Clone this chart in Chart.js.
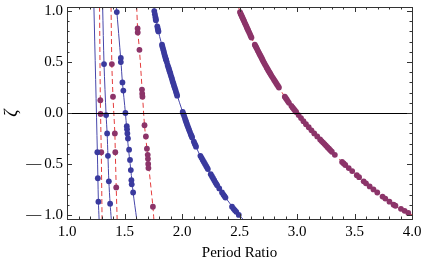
<!DOCTYPE html>
<html>
<head>
<meta charset="utf-8">
<script src="https://cdn.jsdelivr.net/npm/chart.js@4/dist/chart.umd.min.js"></script>
<style>
html, body { margin: 0; padding: 0; background: #fff; }
</style>
</head>
<body>
<canvas id="periodChart" width="424" height="258"></canvas>
<script>
// Curves: [period ratio, zeta]
var blue1Line = [[1.234, 1.04], [1.264, -0.385], [1.273, -0.87], [1.279, -1.04]];
var blue1Pts = [[1.264, -0.385], [1.268, -0.64], [1.273, -0.87]];

var red1Line = [[1.283, 1.04], [1.29, 0.125], [1.298, -0.385], [1.305, -1.04]];
var red1Pts = [[1.29, 0.125], [1.292, -0.01], [1.298, -0.385]];

var blue2Line = [[1.31, 1.04], [1.322, 0.48], [1.34, -0.02], [1.349, -0.2], [1.356, -0.42], [1.364, -0.67], [1.375, -0.89], [1.385, -1.04]];
var blue2Pts = [[1.322, 0.48], [1.34, -0.02], [1.349, -0.2], [1.356, -0.42], [1.364, -0.67], [1.375, -0.89]];

var red2Line = [[1.383, 1.04], [1.39, 0.48], [1.40, 0.16], [1.416, -0.2], [1.42, -0.385], [1.428, -0.73], [1.436, -1.04]];
var red2Pts = [[1.39, 0.48], [1.40, 0.16], [1.416, -0.2], [1.42, -0.385], [1.428, -0.73]];

var blue3Line = [[1.43, 1.04], [1.468, 0.52], [1.482, 0.30], [1.508, 0.0], [1.53, -0.3], [1.555, -0.56], [1.575, -0.78], [1.606, -1.04]];
var blue3Pts = [[1.433, 0.99], [1.468, 0.54], [1.468, 0.50], [1.482, 0.30], [1.49, 0.22], [1.508, 0.0],
  [1.52, -0.13], [1.522, -0.16], [1.525, -0.20], [1.53, -0.25], [1.54, -0.36], [1.548, -0.46],
  [1.555, -0.56], [1.56, -0.66], [1.563, -0.70], [1.575, -0.78]];

var red3Line = [[1.606, 1.04], [1.615, 0.81], [1.63, 0.62], [1.655, 0.2], [1.674, -0.12], [1.695, -0.35], [1.705, -0.46], [1.747, -0.92], [1.755, -1.04]];
var red3Pts = [[1.614, 0.83], [1.615, 0.79], [1.63, 0.62], [1.652, 0.23], [1.654, 0.19], [1.656, 0.16],
  [1.674, -0.12], [1.686, -0.23], [1.695, -0.35], [1.702, -0.41], [1.704, -0.45], [1.706, -0.50],
  [1.708, -0.54], [1.747, -0.92]];

var blue4Line = [[1.755, 1.04], [1.795, 0.8], [1.842, 0.6], [1.895, 0.4], [1.95, 0.2], [2.009, 0.0],
  [2.073, -0.2], [2.15, -0.4], [2.25, -0.6], [2.36, -0.8], [2.494, -1.0], [2.53, -1.04]];
var blue4Pts = [[1.759, 1.0], [1.764, 0.97], [1.769, 0.94], [1.772, 0.92], [1.773, 0.91], [1.785, 0.85], [1.789, 0.83],
  [1.793, 0.81], [1.795, 0.80], [1.826, 0.67], [1.830, 0.65], [1.835, 0.63], [1.840, 0.61], [1.844, 0.59],
  [1.849, 0.57], [1.854, 0.55], [1.859, 0.53], [1.862, 0.52], [1.868, 0.50], [1.875, 0.47], [1.881, 0.45],
  [1.887, 0.43], [1.892, 0.41], [1.898, 0.39], [1.903, 0.37], [1.909, 0.35], [1.914, 0.33],
  [1.919, 0.31], [1.925, 0.29], [1.930, 0.27], [1.936, 0.25], [1.942, 0.23], [1.947, 0.21],
  [1.953, 0.19], [1.958, 0.17], [2.006, 0.01], [2.012, -0.01], [2.019, -0.03], [2.025, -0.05], [2.031, -0.07],
  [2.037, -0.09], [2.043, -0.11], [2.050, -0.13], [2.057, -0.15], [2.063, -0.17], [2.070, -0.19],
  [2.077, -0.21], [2.083, -0.225], [2.088, -0.24], [2.103, -0.28], [2.110, -0.30], [2.116, -0.315], [2.122, -0.33], [2.16, -0.42],
  [2.17, -0.44], [2.18, -0.46], [2.19, -0.48], [2.20, -0.50], [2.21, -0.52], [2.218, -0.535], [2.225, -0.55],
  [2.25, -0.60], [2.26, -0.62], [2.27, -0.64], [2.28, -0.66], [2.29, -0.68], [2.298, -0.695], [2.306, -0.71],
  [2.324, -0.74], [2.348, -0.78], [2.36, -0.80], [2.369, -0.815], [2.378, -0.83], [2.435, -0.92], [2.449, -0.94],
  [2.46, -0.955], [2.472, -0.97], [2.494, -1.0]];

var red4Line = [[2.49, 1.04], [2.54, 0.9], [2.62, 0.7], [2.71, 0.5], [2.815, 0.3], [2.93, 0.1],
  [3.07, -0.1], [3.235, -0.3], [3.41, -0.5], [3.61, -0.7], [3.84, -0.9], [4.0, -1.0]];
var red4Pts = [[2.504, 0.99], [2.51, 0.975], [2.516, 0.96], [2.522, 0.945], [2.528, 0.93], [2.534, 0.915], [2.54, 0.90],
  [2.546, 0.885], [2.552, 0.87], [2.558, 0.855], [2.564, 0.84], [2.57, 0.825],
  [2.576, 0.81], [2.584, 0.79], [2.592, 0.77], [2.598, 0.755], [2.604, 0.74], [2.633, 0.67], [2.64, 0.655], [2.647, 0.64],
  [2.654, 0.625], [2.66, 0.61], [2.667, 0.595],
  [2.674, 0.58], [2.681, 0.565], [2.688, 0.55], [2.695, 0.535], [2.701, 0.52], [2.708, 0.505], [2.715, 0.49],
  [2.722, 0.475], [2.73, 0.46], [2.737, 0.445], [2.745, 0.43], [2.752, 0.415],
  [2.76, 0.40], [2.768, 0.385], [2.776, 0.37], [2.784, 0.355], [2.793, 0.34], [2.801, 0.325], [2.81, 0.31],
  [2.818, 0.295], [2.826, 0.28], [2.835, 0.265], [2.843, 0.25],
  [2.894, 0.16], [2.903, 0.145], [2.912, 0.13], [2.921, 0.115], [2.93, 0.10], [2.951, 0.07], [2.961, 0.055],
  [2.972, 0.04], [2.982, 0.025], [2.993, 0.01],
  [3.014, -0.02], [3.035, -0.05], [3.056, -0.08], [3.078, -0.11], [3.102, -0.14], [3.126, -0.17],
  [3.15, -0.20], [3.176, -0.23], [3.201, -0.26], [3.214, -0.275], [3.227, -0.29], [3.24, -0.305], [3.252, -0.32],
  [3.265, -0.335], [3.278, -0.35], [3.29, -0.365],
  [3.303, -0.38], [3.329, -0.41], [3.392, -0.48], [3.406, -0.495], [3.42, -0.51], [3.45, -0.54], [3.48, -0.57],
  [3.52, -0.61], [3.54, -0.63], [3.58, -0.67], [3.60, -0.69], [3.632, -0.72], [3.665, -0.75],
  [3.698, -0.78], [3.744, -0.82], [3.768, -0.84], [3.804, -0.87], [3.84, -0.90], [3.856, -0.91],
  [3.904, -0.94], [3.936, -0.96], [3.968, -0.98]];

var xTicks = [1.0, 1.5, 2.0, 2.5, 3.0, 3.5, 4.0];
var yTicks = [-1.0, -0.5, 0.0, 0.5, 1.0];

var blueLine = 'rgb(70, 70, 170)';
var bluePoint = 'rgb(58, 58, 158)';
var redLine = 'rgb(228, 60, 60)';
var purplePoint = 'rgb(140, 52, 105)';

function toXY(arr) {
    return arr.map(function (p) { return { x: p[0], y: p[1] }; });
}

function lineSet(arr, color, dashed) {
    return {
        data: toXY(arr),
        showLine: true,
        borderColor: color,
        borderWidth: 1,
        borderDash: dashed ? [5, 3] : [],
        pointRadius: 0,
        tension: 0.3,
        order: 2
    };
}

function pointSet(arr, color) {
    return {
        data: toXY(arr),
        showLine: false,
        backgroundColor: color,
        borderWidth: 0,
        pointRadius: 2.9,
        order: 1
    };
}

// frame, inside ticks and the zero line, all through the chart's scales
var frameTicks = {
    id: 'frameTicks',
    afterDatasetsDraw: function (chart) {
        var ctx = chart.ctx, a = chart.chartArea;
        var xs = chart.scales.x, ys = chart.scales.y;
        ctx.save();
        ctx.strokeStyle = '#000';
        ctx.lineWidth = 1;
        var y0 = Math.round(ys.getPixelForValue(0)) + 0.5;
        ctx.beginPath();
        ctx.moveTo(a.left, y0);
        ctx.lineTo(a.right, y0);
        ctx.stroke();

        ctx.strokeStyle = '#333';
        ctx.strokeRect(Math.round(a.left) + 0.5, Math.round(a.top) + 0.5,
            Math.round(a.right - a.left), Math.round(a.bottom - a.top));
        ctx.beginPath();
        for (var i = 0; i <= 30; i++) {
            var px = Math.round(xs.getPixelForValue(1 + i * 0.1)) + 0.5;
            var len = i % 5 === 0 ? 5 : 2.5;
            ctx.moveTo(px, a.bottom);
            ctx.lineTo(px, a.bottom - len);
            ctx.moveTo(px, a.top);
            ctx.lineTo(px, a.top + len);
        }
        for (var j = -10; j <= 10; j++) {
            var py = Math.round(ys.getPixelForValue(j / 10)) + 0.5;
            var l2 = j % 5 === 0 ? 5 : 2.5;
            ctx.moveTo(a.left, py);
            ctx.lineTo(a.left + l2, py);
            ctx.moveTo(a.right, py);
            ctx.lineTo(a.right - l2, py);
        }
        ctx.stroke();
        ctx.restore();
    }
};

var serif = "'Liberation Serif', 'DejaVu Serif', serif";

var chart = new Chart(document.getElementById('periodChart'), {
    type: 'scatter',
    data: {
        datasets: [
            lineSet(blue1Line, blueLine, false), pointSet(blue1Pts, bluePoint),
            lineSet(red1Line, redLine, true), pointSet(red1Pts, purplePoint),
            lineSet(blue2Line, blueLine, false), pointSet(blue2Pts, bluePoint),
            lineSet(red2Line, redLine, true), pointSet(red2Pts, purplePoint),
            lineSet(blue3Line, blueLine, false), pointSet(blue3Pts, bluePoint),
            lineSet(red3Line, redLine, true), pointSet(red3Pts, purplePoint),
            lineSet(blue4Line, blueLine, false), pointSet(blue4Pts, bluePoint),
            lineSet(red4Line, redLine, true), pointSet(red4Pts, purplePoint)
        ]
    },
    options: {
        responsive: false,
        animation: false,
        devicePixelRatio: 1,
        layout: { padding: { top: 7, right: 12, left: 0, bottom: 0 } },
        plugins: {
            legend: { display: false },
            tooltip: { enabled: false }
        },
        scales: {
            x: {
                type: 'linear',
                min: 1,
                max: 4,
                afterBuildTicks: function (scale) {
                    scale.ticks = xTicks.map(function (v) { return { value: v }; });
                },
                afterFit: function (scale) {
                    scale.height = 39;
                    scale.paddingLeft = 0;
                    scale.paddingRight = 0;
                },
                grid: { display: false, drawTicks: false },
                border: { display: false },
                ticks: {
                    color: '#000',
                    padding: 4,
                    maxRotation: 0,
                    font: { family: serif, size: 15 },
                    callback: function (v) { return v.toFixed(1); }
                },
                title: {
                    display: true,
                    text: 'Period Ratio',
                    color: '#000',
                    font: { family: serif, size: 15 },
                    padding: { top: 0, bottom: -4 }
                }
            },
            y: {
                type: 'linear',
                min: -1.04,
                max: 1.04,
                afterBuildTicks: function (scale) {
                    scale.ticks = yTicks.map(function (v) { return { value: v }; });
                },
                afterFit: function (scale) {
                    scale.width = 67;
                    scale.paddingTop = 0;
                    scale.paddingBottom = 0;
                },
                grid: { display: false, drawTicks: false },
                border: { display: false },
                ticks: {
                    color: '#000',
                    padding: 4,
                    font: { family: serif, size: 15 },
                    callback: function (v) {
                        return v < 0 ? '\u2014\u2009' + Math.abs(v).toFixed(1) : v.toFixed(1);
                    }
                },
                title: {
                    display: true,
                    text: '\u03b6',
                    color: '#000',
                    font: { family: serif, size: 18, style: 'italic' },
                    padding: { top: 1, bottom: 0 }
                }
            }
        }
    },
    plugins: [frameTicks]
});
</script>
</body>
</html>
